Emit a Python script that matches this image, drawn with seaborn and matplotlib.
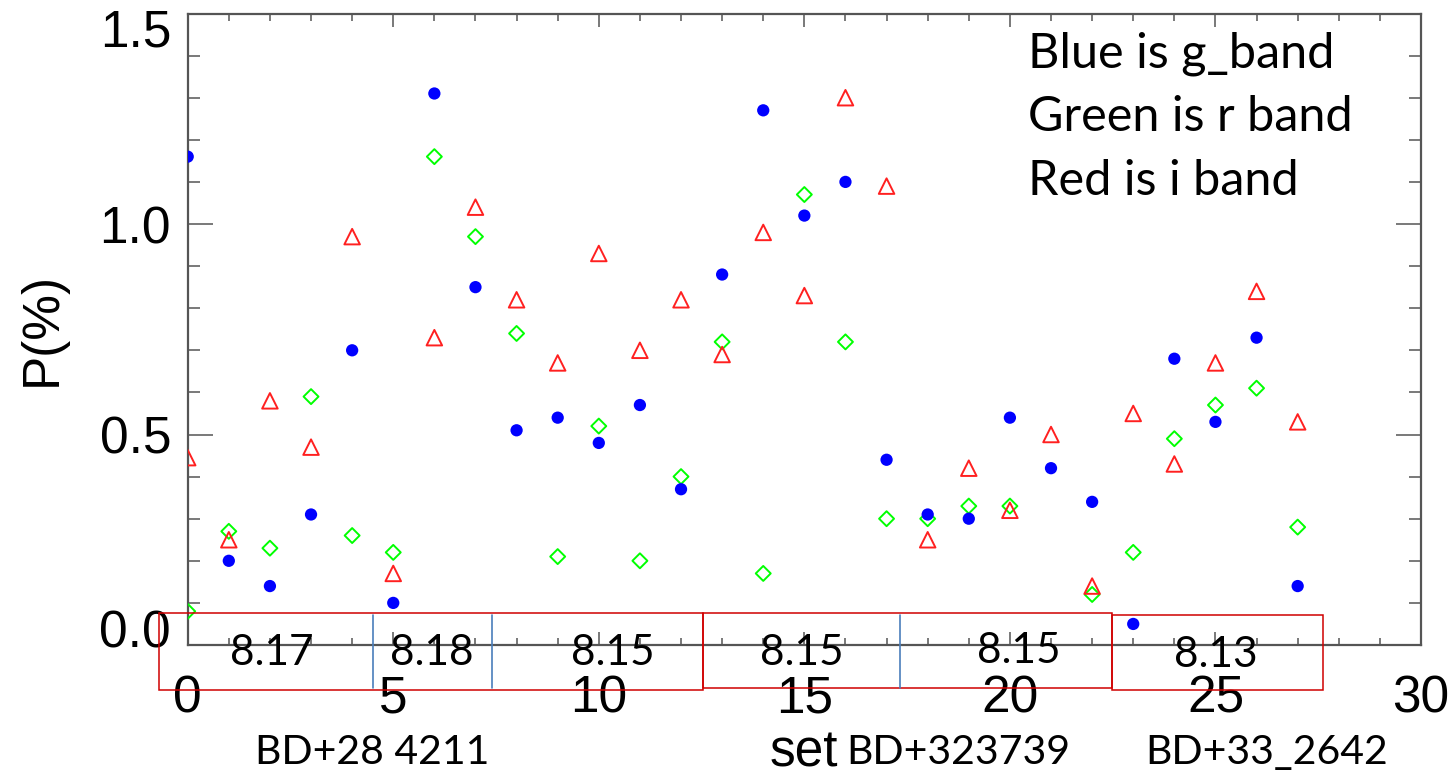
import numpy as np
import matplotlib
matplotlib.use("Agg")
import matplotlib.pyplot as plt
import matplotlib.transforms as mtransforms
import seaborn as sns
from matplotlib.patches import Rectangle
from matplotlib.lines import Line2D
from matplotlib.ticker import MultipleLocator

# ---------------- data ----------------
set_index = list(range(28))
g_band = [1.16, 0.20, 0.14, 0.31, 0.70, 0.10, 1.31, 0.85, 0.51, 0.54,
          0.48, 0.57, 0.37, 0.88, 1.27, 1.02, 1.10, 0.44, 0.31, 0.30,
          0.54, 0.42, 0.34, 0.05, 0.68, 0.53, 0.73, 0.14]
r_band = [0.08, 0.27, 0.23, 0.59, 0.26, 0.22, 1.16, 0.97, 0.74, 0.21,
          0.52, 0.20, 0.40, 0.72, 0.17, 1.07, 0.72, 0.30, 0.30, 0.33,
          0.33, np.nan, 0.12, 0.22, 0.49, 0.57, 0.61, 0.28]
i_band = [0.445, 0.25, 0.58, 0.47, 0.97, 0.17, 0.73, 1.04, 0.82, 0.67,
          0.93, 0.70, 0.82, 0.69, 0.98, 0.83, 1.30, 1.09, 0.25, 0.42,
          0.32, 0.50, 0.14, 0.55, 0.43, 0.67, 0.84, 0.53]

legend_lines = ["Blue is g_band", "Green is r band", "Red is i band"]
box_labels = ["8.17", "8.18", "8.15", "8.15", "8.15", "8.13"]
star_labels = ["BD+28 4211", "BD+323739", "BD+33_2642"]
x_ticks = [0, 5, 10, 15, 20, 25, 30]
y_ticks = [0.0, 0.5, 1.0, 1.5]

# ---------------- figure ----------------
sns.set_style("white")
plt.rcParams['font.family'] = ['Liberation Sans', 'DejaVu Sans']

W, H = 1455, 779
fig = plt.figure(figsize=(W / 100, H / 100), dpi=100)

def fx(px):
    return px / W

def fy(py):
    return 1 - py / H

ax = fig.add_axes([fx(187.7), fy(645), fx(1421) - fx(187.7), fy(13.5) - fy(645)])

sns.scatterplot(x=set_index, y=r_band, ax=ax, marker='D', s=58,
                facecolor='none', edgecolor='#00ff00', linewidth=1.4, zorder=3)
sns.scatterplot(x=set_index, y=i_band, ax=ax, marker='^', s=125,
                facecolor='none', edgecolor='#ff2020', linewidth=1.4, zorder=3)
sns.scatterplot(x=set_index, y=g_band, ax=ax, marker='o', s=78,
                color='#0000ff', edgecolor='none', linewidth=0, zorder=4)

ax.set_xlim(0, 30)
ax.set_ylim(0, 1.5)
ax.set_xticks(x_ticks)
ax.set_yticks(y_ticks)
ax.set_xticklabels([str(t) for t in x_ticks])
ax.set_yticklabels([f"{t:.1f}" for t in y_ticks])
ax.xaxis.set_minor_locator(MultipleLocator(1))
ax.yaxis.set_minor_locator(MultipleLocator(0.1))

spine_col = '#555555'
for sp in ax.spines.values():
    sp.set_color(spine_col)
    sp.set_linewidth(1.6)
    sp.set_visible(True)

ax.tick_params(axis='x', which='major', direction='in', length=9.5, width=1.1,
               color=spine_col, top=True, bottom=True, labelsize=37, pad=21,
               labelcolor='black')
ax.tick_params(axis='x', which='minor', direction='in', length=5, width=1.1,
               color=spine_col, top=True, bottom=True)
ax.tick_params(axis='y', which='major', direction='in', length=18, width=1.1,
               color=spine_col, left=True, right=True, labelsize=37, pad=12,
               labelcolor='black')
ax.tick_params(axis='y', which='minor', direction='in', length=8.6, width=1.1,
               color=spine_col, left=True, right=True)

# end labels of the y axis sit inside the axis range, as in the reference
yticks_major = ax.yaxis.get_major_ticks()
for tk, dy in [(yticks_major[0], 17), (yticks_major[-1], -14)]:
    lab = tk.label1
    lab.set_transform(lab.get_transform() +
                      mtransforms.ScaledTranslation(0, dy / 100, fig.dpi_scale_trans))

ax.set_ylabel("P(%)", fontsize=37, va='center', color='black')
ax.yaxis.set_label_coords((42 - 187.7) / 1233.3, 0.5)
ax.set_xlabel("set", fontsize=37, va='center', color='black')
ax.xaxis.set_label_coords((804 - 187.7) / 1233.3, (645 - 753) / 631.5)

# ---------------- overlay annotations ----------------
calib = ['Lato', 'DejaVu Sans']
for i, line in enumerate(legend_lines):
    fig.text(fx(1028), fy([67, 131, 195][i]), line, fontsize=35,
             family=calib, va='baseline', ha='left', color='black')

red = '#d00000'
boxes = [(159, 612.7, 702.7, 690), (702.7, 612.7, 1111.7, 687.5),
         (1111.7, 614.7, 1323.3, 690)]
for (x0, y0, x1, y1) in boxes:
    fig.add_artist(Rectangle((fx(x0), fy(y1)), fx(x1) - fx(x0), fy(y0) - fy(y1),
                             transform=fig.transFigure, fill=False,
                             edgecolor=red, linewidth=1.1))
for xp in [373, 491.7, 899.7]:
    fig.add_artist(Line2D([fx(xp), fx(xp)], [fy(688), fy(615)],
                          transform=fig.transFigure, color='#4a7ebb', linewidth=1.2))

box_pos = [(272, 653), (432, 653), (613, 653), (802, 653), (1019, 651), (1216, 655)]
for (xp, yp), lab in zip(box_pos, box_labels):
    fig.text(fx(xp), fy(yp), lab, fontsize=30.5, family=calib, ha='center',
             va='center', color='black')

star_pos = [(372, 753), (958, 753), (1267, 753)]
for (xp, yp), lab in zip(star_pos, star_labels):
    fig.text(fx(xp), fy(yp), lab, fontsize=29.5, family=calib, ha='center',
             va='center', color='black')

fig.savefig("out.png", dpi=100, facecolor='white')
